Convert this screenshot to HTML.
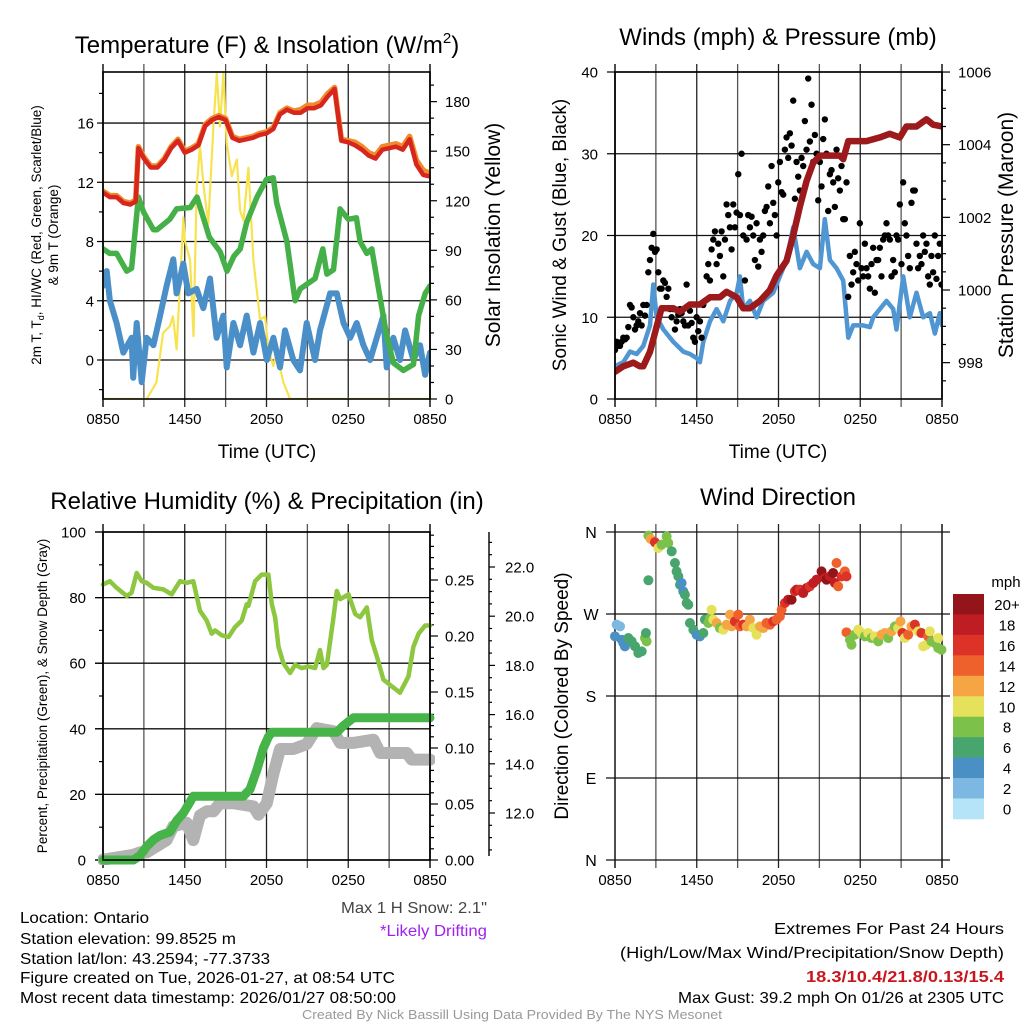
<!DOCTYPE html>
<html><head><meta charset="utf-8">
<style>
html,body{margin:0;padding:0;background:#fff;}
svg{display:block;font-family:"Liberation Sans",sans-serif;}
</style></head>
<body>
<svg id="fig" width="1024" height="1024" viewBox="0 0 1024 1024" xmlns="http://www.w3.org/2000/svg">
<defs>
<clipPath id="c1"><rect x="103" y="72" width="327" height="327"/></clipPath>
<clipPath id="c2"><rect x="615" y="72" width="327" height="327"/></clipPath>
<clipPath id="c3"><rect x="98" y="527" width="337" height="338"/></clipPath>
<clipPath id="c4"><rect x="605" y="527" width="345" height="338"/></clipPath>
</defs>
</svg>
<script>
// ===== Time axis =====
const timeTickHours = [0, 6, 12, 18, 24];
const timeTickLabels = ["0850", "1450", "2050", "0250", "0850"];

// ===== Panel 1: temperature (F) & insolation =====
const tempTimes = [0,0.5,1,1.5,2,2.4,2.6,3,3.5,4,4.5,5,5.5,6,6.5,7,7.5,8,8.5,9,9.5,10,10.5,11,11.5,12,12.5,13,13.5,14,14.5,15,15.5,16,16.5,17,17.5,18,18.5,19,19.5,20,20.5,21,21.5,22,22.5,23,23.5,24];
const tempValues = [11.3,11.0,11.0,10.6,10.5,10.7,14.3,13.6,13.0,13.0,13.5,14.3,14.8,14.0,14.2,14.5,15.8,16.2,16.4,16.2,15.0,14.8,14.9,15.0,15.2,15.3,15.6,16.6,16.9,16.7,16.7,17.0,17.0,17.2,17.8,18.3,14.8,14.7,14.5,14.2,13.8,13.6,14.2,14.3,14.4,14.2,14.9,13.2,12.5,12.4];
const temp9mValues = [11.4,11.1,11.1,10.7,10.6,10.8,14.4,13.7,13.1,13.1,13.6,14.4,14.9,14.1,14.3,14.6,15.9,16.3,16.5,16.3,15.1,14.9,15.0,15.1,15.3,15.4,15.7,16.7,17.0,16.8,16.9,17.2,17.2,17.4,18.0,18.4,14.9,14.8,14.7,14.4,14.0,13.8,14.4,14.5,14.6,14.4,15.1,13.5,12.8,12.6];
const dewTimes = [0,0.5,1,1.74,2.1,2.6,2.97,3.7,3.96,4.9,5.4,6.4,6.9,7.8,8.6,9.1,9.6,10.07,10.55,11.3,12.0,12.5,12.75,13.5,14.1,14.47,15.57,16.13,16.43,16.92,17.4,18.0,18.6,18.87,19.36,19.73,20.34,20.83,21.32,22.05,22.79,23.16,23.65,24];
const dewValues = [7.5,7.2,7.2,6.0,6.2,11.0,10.0,8.8,8.8,9.5,10.2,10.3,11.0,8.3,7.3,6.0,7.0,7.5,9.3,11.0,12.2,12.3,10.6,8.0,4.0,4.8,5.5,7.5,5.8,6.1,10.2,9.5,9.6,8.0,7.2,7.5,4.2,1.6,-0.2,-0.7,-0.3,3.0,4.5,5.0];
const chillTimes = [0,0.27,0.51,1,1.49,2.1,2.22,2.47,2.84,3.2,3.7,4.19,4.67,5.16,5.4,5.89,6.26,6.87,7.36,7.85,8.34,8.83,9.08,9.57,10.06,10.55,11.04,11.53,12.02,12.51,12.99,13.36,13.97,14.46,14.95,15.56,15.93,16.67,17.16,17.65,18.14,18.62,19.11,19.6,20.58,20.82,21.31,21.8,22.17,22.78,23.27,23.64,24];
const chillValues = [5.0,6.0,4.0,2.5,0.5,1.5,-1.2,2.5,-1.5,1.5,1.0,3.0,5.0,6.8,4.5,6.5,4.5,4.8,3.5,5.5,1.5,3.0,-0.5,2.5,1.0,3.0,0.5,2.5,0.0,1.5,-0.5,2.0,0.0,-0.7,2.5,0.0,2.0,4.5,4.5,2.5,1.5,2.5,1.0,0.0,3.0,-0.5,1.5,0.0,2.0,0.0,1.0,-1.0,0.5];
const solarTimes = [0,3.2,3.92,4.41,4.9,5.14,5.4,5.9,6.0,6.39,6.64,6.88,7.12,7.37,7.73,8.1,8.35,8.59,8.84,9.08,9.45,9.82,10.06,10.31,10.67,11.04,11.53,11.9,12.14,12.51,12.75,13.24,13.73,24];
const solarValues = [0,0,10,40,44,50,30,110,96,84,38,128,153,130,106,165,197,165,197,155,135,145,114,108,140,84,48,50,30,20,28,10,0,0];

// ===== Panel 2: winds & pressure =====
const windTimes = [0,0.61,1.1,1.59,2.08,2.57,2.81,3.06,3.55,4.28,5.01,5.5,5.99,6.23,6.48,6.97,7.46,7.95,8.44,8.93,9.17,9.41,9.9,10.39,10.88,11.61,12.1,12.59,13.08,13.57,14.06,14.55,15.04,15.4,15.77,16.26,16.75,17.12,17.48,18.22,18.71,18.95,19.44,19.93,20.42,20.66,21.15,21.64,22.13,22.62,23.11,23.48,23.84,24];
const windValues = [4,4.5,5.8,5.5,6.5,9,14,10,8.5,7,5.8,5.5,5,4.5,7,9.5,11,9.5,12,13,15,11,12,10,12,13,15,17,21,16,18,16.5,16,22,17,16,14.5,7.5,9,9,8.8,10,11,12,11,8.5,15,10,13,10,10.5,8,10.5,9];
const pressTimes = [0,0.61,1.34,1.83,2.08,2.57,3.06,3.42,4.28,4.77,5.5,6.23,6.97,7.7,8.19,8.93,9.41,9.9,10.64,11.37,11.86,12.59,13.08,13.57,14.06,14.55,15.04,15.53,16.5,16.75,17.12,17.73,18.46,19.44,20.17,20.9,21.39,22.13,22.86,23.35,24];
const pressValues = [997.75,997.9,998.0,997.9,997.9,998.3,999.0,999.5,999.5,999.4,999.6,999.6,999.8,999.8,999.95,999.8,999.5,999.5,999.7,1000.0,1000.4,1000.8,1001.5,1002.3,1003.0,1003.5,1003.7,1003.7,1003.7,1003.6,1004.1,1004.1,1004.1,1004.2,1004.3,1004.2,1004.5,1004.5,1004.7,1004.55,1004.5];
const gustValues = [6,7,6.5,6.5,7,7.5,7.3,7.5,8.8,11.5,11.2,10,8.5,9,9.5,10.5,9,11.5,10.2,11.5,15.5,17,18.5,20.2,18,18.3,15.5,13.5,13.5,14.5,14.2,12.5,13.5,11,10,11,8.5,9.5,10.3,11,10.5,9.5,9,14,9,10.8,9.3,7.5,7,10,8.3,9.5,7.5,11.5,12,15,16.5,14.5,18.3,19.5,20.5,16.5,19,17.5,20.5,15,19.5,23.8,22.5,21,18.3,23.8,21,22.8,27.5,22.5,30,20,14.5,19.5,22.5,21,22.3,20,17,21.5,16.2,19.5,18,20,23,23.5,26,21.5,28.5,24,22.5,20,26.5,29,25.3,25,30.5,32,29.5,32.5,31,36.5,24.5,29,27.2,25.5,29.5,28.5,34,30.5,39.2,31.5,36,29,32.3,30,24.3,29,26,31.8,34.2,30,23,27.5,28,26.5,23.5,30.5,27,25.5,28.5,22,22,26.5,12.5,17.5,14,15.5,18,16.5,14.5,21.5,16,15,19,16,15,13.5,16.5,18.5,13,17,17,18.5,15,19.5,20,21.5,20,19.5,15,17,15.5,20,19.5,23.8,16.5,26.5,21.5,20,17.5,16,24,25.5,25.5,19,16,17.5,16.5,20,18,19,15,14,17.5,15.5,20,14.7,17.5,19,14];
const gustSpanHours = 23.96;

// ===== Panel 3: RH, precip, snow depth =====
const rhTimes = [0,0.51,1,1.74,2.1,2.47,2.84,3.2,3.7,4.43,5.04,5.65,6.14,6.63,7.12,7.61,7.98,8.23,8.72,9.21,9.69,10.18,10.55,10.67,11.16,11.65,12.14,12.39,12.63,12.88,13.24,13.73,14.1,14.59,15.08,15.57,15.93,16.18,16.43,16.92,17.16,17.41,18.02,18.51,18.87,19.36,19.73,20.1,20.58,21.19,21.8,22.42,22.78,23.16,23.65,24];
const rhValues = [84,85,83,80.5,81.5,87.5,85,84.5,83,82.5,81,85,84.5,85,76,73,69,70,68.5,68,71,73,78,77.5,85,87,87,78,74,65,60,57,59.5,58.5,59,58.5,64,58.5,59.5,74,82,79.5,81,75,74,77,67,62,55,53,51,56,65,69,71.5,71.5];
const precipTimes = [0,2.23,2.72,3.2,3.7,4.19,4.92,5.4,5.9,6.39,6.63,7.12,10.3,10.79,11.28,11.77,12.14,12.39,17.16,17.65,18.38,24];
const precipValues = [0,0,0.004,0.012,0.018,0.022,0.025,0.035,0.042,0.052,0.057,0.057,0.057,0.063,0.08,0.1,0.11,0.114,0.114,0.12,0.127,0.127];
const snowTimes = [0,2.23,2.72,3.2,4.67,5.16,6.14,6.63,7.12,7.61,8.1,8.59,9.57,11.04,11.41,12.02,12.51,13.0,13.97,14.95,15.69,16.92,17.41,18.38,19.85,20.34,22.3,22.66,24];
const snowValues = [10.1,10.3,10.4,10.4,10.9,11.46,11.6,10.9,11.9,12.07,12.07,12.4,12.4,12.27,11.93,12.4,13.6,14.6,14.6,14.8,15.45,15.32,14.85,14.85,14.98,14.44,14.44,14.17,14.17];

// ===== Panel 4: wind direction =====
const dirTimes = [0,0.12,0.37,0.49,0.61,0.73,0.98,1.22,1.47,1.71,1.96,2.2,2.32,2.27,2.45,
2.45,2.62,2.93,3.18,3.42,3.79,3.91,4.16,4.4,4.52,4.65,4.77,4.89,5.01,5.13,5.26,5.38,
5.5,5.75,5.99,6.23,6.48,6.6,6.85,6.97,7.09,7.21,7.46,7.7,7.95,8.19,8.44,8.56,8.8,9.05,9.17,9.41,9.66,9.9,10.15,10.39,10.64,10.88,11.12,11.37,11.61,11.86,12.1,12.23,12.47,12.71,12.96,13.2,13.33,13.57,13.81,14.06,14.3,14.55,14.79,15.16,15.4,15.53,15.77,16.01,16.14,16.26,16.38,16.63,16.87,16.99,
16.99,17.24,17.36,17.6,17.85,18.09,18.34,18.58,18.83,19.07,19.32,19.56,19.8,20.05,20.29,20.54,20.78,20.95,21.1,21.27,21.52,21.76,22.01,22.25,22.49,22.62,22.86,22.98,23.11,23.23,23.47,23.72,23.72,23.96];
const dirValues = [245.5,258.3,256.4,241.8,238.2,234.5,243.6,240,234.5,227.2,229,243.6,240,249.1,307,
356,352.3,348.7,342.4,346.1,355.2,347.9,338.8,326,316.8,311.3,302.2,304,294.9,291.2,282.1,280.2,
260.1,252.8,247.3,245.5,249.1,263.8,260.1,265.6,274.7,263.8,260.1,254.6,252.8,258.3,269.3,256.4,261.9,269.3,256.4,258.3,256.4,263.8,254.6,247.3,256.4,254.6,260.1,258.3,261.9,263.8,267.4,274.7,282.1,285.7,285.7,294.9,296.7,296.7,293,298.5,300.4,304,307.7,316.8,309.5,307.7,311.3,315,304,326,300.4,311.3,316.8,311.3,
249.9,241.8,236.3,247.3,252.8,249.1,245.5,249.1,243.6,245.5,240,247.3,249.1,243.6,250.9,256.4,254.6,261.9,249.1,243.6,247.3,256.4,258.3,250.9,249.1,234.5,236.3,245.5,250.9,240,238.2,232.7,243.6,230.8];
const dirSpeeds = [4,3,3,4,4,4,6,6,6,6,6,8,8,7,6,
8,12,16,10,8,8,8,6,6,6,6,6,4,4,6,6,6,
6,6,4,4,6,6,8,8,10,10,12,8,10,12,12,12,16,14,14,16,12,12,10,10,12,12,14,14,16,14,14,14,16,18,20,16,18,16,18,18,16,18,18,20,18,20,18,20,18,14,14,16,14,16,
14,8,8,8,10,10,8,10,8,10,8,12,12,8,12,8,10,12,16,10,14,12,16,10,16,10,10,14,10,8,8,8,10,8];
const speedBinLabels = ["20+","18","16","14","12","10","8","6","4","2","0"];
const speedBinColors = ["#931519","#be1d23","#dd3227","#ef612c","#f6a544","#e6e15a","#7cc24a","#48a56e","#4a90c4","#7db8e2","#b5e3f7"];

// ===== Drawing =====
const NS = "http://www.w3.org/2000/svg";
const svg = document.getElementById("fig");
function mk(tag, attrs, parent) {
  const el = document.createElementNS(NS, tag);
  for (const k in attrs) el.setAttribute(k, attrs[k]);
  (parent || svg).appendChild(el);
  return el;
}
function txt(s, x, y, size, anchor, parent, extra) {
  const t = mk("text", Object.assign({x: x, y: y, "font-size": size, "text-anchor": anchor || "middle", fill: "#000"}, extra || {}), parent);
  t.textContent = s;
  return t;
}
function group(name) {
  const g = mk("g", {});
  
  
  return g;
}
function xScale(P, t) { return P.x0 + t * (P.x1 - P.x0) / 24; }
function polyline(P, times, vals, yf, color, width, clip, parent, name) {
  const pts = times.map((t, i) => xScale(P, t).toFixed(1) + "," + yf(vals[i]).toFixed(1)).join(" ");
  const pl = mk("polyline", {points: pts, fill: "none", stroke: color, "stroke-width": width, "stroke-linejoin": "round", "stroke-linecap": "round", "clip-path": "url(#" + clip + ")"}, parent);
  
  
  return pl;
}
function frame(P, gname, hLines, clip) {
  const g = group(gname);
  // vertical grid lines every 3 h
  for (let h = 0; h <= 24; h += 3) {
    const x = xScale(P, h);
    const ln = mk("line", {x1: x, x2: x, y1: P.y0 - 8, y2: P.y1 + 8, stroke: (h % 6 === 0) ? "#222" : "#555", "stroke-width": (h === 0 || h === 24) ? 1.6 : 1.3}, g);
    
    
  }
  hLines.forEach(y => {
    const ln = mk("line", {x1: P.x0 - (P.hExt || 0), x2: P.x1 + (P.hExtR || 0), y1: y, y2: y, stroke: "#111", "stroke-width": 1.3}, g);
    
    
  });
  timeTickHours.forEach((h, i) => {
    const t = txt(timeTickLabels[i], xScale(P, h), P.y1 + 25, 15, "middle", g);
    
    
  });
  return g;
}
function yTicks(g, x, vals, yf, len, labels, labelX, anchor, size) {
  vals.forEach((v, i) => {
    const y = yf(v);
    const tk = mk("line", {x1: x, x2: x + len, y1: y, y2: y, stroke: "#000", "stroke-width": 1.2}, g);
    
    
    if (labels && labels[i] !== null && labels[i] !== undefined) {
      const t = txt(labels[i], labelX, y + 5.5, size || 15, anchor, g);
      
      
    }
  });
}
function title(s, x, y, size, name) {
  const t = txt(s, x, y, size, "middle");
  
  
  return t;
}
function rotLabel(s, x, y, size, name, extra) {
  const t = txt(s, 0, 0, size, "middle", svg, Object.assign({transform: "translate(" + x + "," + y + ") rotate(-90)"}, extra || {}));
  
  
  return t;
}
function range(a, b, s) { const r = []; for (let v = a; v <= b + 1e-9; v += s) r.push(+v.toFixed(4)); return r; }

// ---------- Panel 1 ----------
const P1 = {x0: 103, x1: 430, y0: 72, y1: 399};
const y1L = v => 360 - v * 14.81;
const y1R = v => 399 - v * 1.652;
const g1 = frame(P1, "temperature-panel", [0, 4, 8, 12, 16].map(y1L), "c1");
yTicks(g1, P1.x0, [0, 4, 8, 12, 16], y1L, -6, ["0", "4", "8", "12", "16"], 94, "end");
yTicks(g1, P1.x0, [-2, 2, 6, 10, 14, 18], y1L, -4, null);
yTicks(g1, P1.x1, range(0, 180, 30), y1R, 7, ["0", "30", "60", "90", "120", "150", "180"], 445, "start");
yTicks(g1, P1.x1, range(10, 190, 10).filter(v => v % 30 !== 0), y1R, 4, null);
polyline(P1, solarTimes, solarValues, y1R, "#f7e34f", 2.2, "c1", g1, "solar-insolation-line");
polyline(P1, chillTimes, chillValues, y1L, "#4a8fc8", 6, "c1", g1, "wind-chill-line");
polyline(P1, dewTimes, dewValues, y1L, "#44b047", 5.5, "c1", g1, "dewpoint-line");
polyline(P1, tempTimes, temp9mValues, y1L, "#f08a2c", 5.5, "c1", g1, "temp-9m-line");
polyline(P1, tempTimes, tempValues, y1L, "#d7261e", 4.5, "c1", g1, "temp-2m-line");
const box1 = mk("rect", {x: P1.x0, y: P1.y0, width: 327, height: 327, fill: "none", stroke: "#000", "stroke-width": 1.6}, g1);


const t1 = title("", 267, 53, 24, "temperature-title");
t1.innerHTML = 'Temperature (F) &amp; Insolation (W/m<tspan font-size="15" dy="-10">2</tspan><tspan dy="10">)</tspan>';
const yl1 = rotLabel("", 41, 235, 13.5, "temperature-y-axis-title");
yl1.innerHTML = '2m T, T<tspan font-size="9" dy="3">d</tspan><tspan dy="-3">, HI/WC (Red, Green, Scarlet/Blue)</tspan>';
rotLabel("& 9m T (Orange)", 58, 235, 13.5, "temperature-y-axis-title-line2");
rotLabel("Solar Insolation (Yellow)", 500, 235, 21, "insolation-y-axis-title");
title("Time (UTC)", 267, 458, 19, "temperature-x-axis-title");

// ---------- Panel 2 ----------
const P2 = {x0: 615, x1: 942, y0: 72, y1: 399};
const y2L = v => 399 - v * 8.175;
const y2R = v => 399 - (v - 997) * 36.33;
const g2 = frame(P2, "winds-panel", [10, 20, 30, 40].map(y2L), "c2");
yTicks(g2, P2.x0, [0, 10, 20, 30, 40], y2L, -8, ["0", "10", "20", "30", "40"], 598, "end");
yTicks(g2, P2.x1, [998, 1000, 1002, 1004, 1006], y2R, 8, ["998", "1000", "1002", "1004", "1006"], 958, "start");
yTicks(g2, P2.x1, range(997.5, 1005.5, 0.5).filter(v => v % 2 !== 0), y2R, 4, null);
polyline(P2, windTimes, windValues, y2L, "#4f96d2", 4.5, "c2", g2, "sonic-wind-line");
const gustG = mk("g", {"clip-path": "url(#c2)"}, g2);


gustValues.forEach((v, i) => {
  const t = i * gustSpanHours / (gustValues.length - 1);
  const c = mk("circle", {cx: xScale(P2, t), cy: y2L(v), r: 3.2, fill: "#000"}, gustG);
  
  
});
polyline(P2, pressTimes, pressValues, y2R, "#9c1a1c", 6.5, "c2", g2, "station-pressure-line");
const box2 = mk("rect", {x: P2.x0, y: P2.y0, width: 327, height: 327, fill: "none", stroke: "#000", "stroke-width": 1.6}, g2);


title("Winds (mph) & Pressure (mb)", 778, 45, 24, "winds-title");
rotLabel("Sonic Wind & Gust (Blue, Black)", 566, 235, 19, "wind-y-axis-title");
rotLabel("Station Pressure (Maroon)", 1013, 235, 21, "pressure-y-axis-title");
title("Time (UTC)", 778, 458, 19, "winds-x-axis-title");

// ---------- Panel 3 ----------
const P3 = {x0: 103, x1: 430, y0: 532, y1: 860, hExt: 8};
const y3L = v => 860 - v * 3.28;
const y3P = v => 860 - v * 1120;
const y3S = v => 813 - (v - 12) * 24.6;
const g3 = frame(P3, "humidity-panel", [0, 20, 40, 60, 80, 100].map(y3L), "c3");
yTicks(g3, P3.x0, [0, 20, 40, 60, 80, 100], y3L, -8, ["0", "20", "40", "60", "80", "100"], 86, "end");
yTicks(g3, P3.x0, [10, 30, 50, 70, 90], y3L, -4, null);
yTicks(g3, P3.x1, range(0, 0.25, 0.05), y3P, 8, ["0.00", "0.05", "0.10", "0.15", "0.20", "0.25"], 445, "start");
yTicks(g3, P3.x1, range(0.01, 0.29, 0.01).filter(v => Math.round(v * 100) % 5 !== 0), y3P, 4, null);
const snowAx = mk("line", {x1: 489, x2: 489, y1: 532, y2: 856, stroke: "#000", "stroke-width": 1.4}, g3);


yTicks(g3, 489, [12, 14, 16, 18, 20, 22], y3S, 6, ["12.0", "14.0", "16.0", "18.0", "20.0", "22.0"], 505, "start");
yTicks(g3, 489, range(10.5, 23, 0.5).filter(v => v % 2 !== 0), y3S, 3, null);
polyline(P3, snowTimes, snowValues, y3S, "#b3b3b3", 12, "c3", g3, "snow-depth-line");
polyline(P3, precipTimes, precipValues, y3P, "#46b449", 9, "c3", g3, "precipitation-line");
polyline(P3, rhTimes, rhValues, y3L, "#8dc63f", 4.5, "c3", g3, "relative-humidity-line");
const box3 = mk("rect", {x: P3.x0, y: P3.y0, width: 327, height: 328, fill: "none", stroke: "#000", "stroke-width": 1.6}, g3);


title("Relative Humidity (%) & Precipitation (in)", 267, 509, 24, "humidity-title");
rotLabel("Percent, Precipitation (Green), & Snow Depth (Gray)", 47, 696, 13.5, "humidity-y-axis-title");

// ---------- Panel 4 ----------
const P4 = {x0: 615, x1: 942, y0: 532, y1: 860, hExt: 9, hExtR: 8};
const y4 = v => 860 - v * 0.9111;
const g4 = frame(P4, "wind-direction-panel", [0, 90, 180, 270, 360].map(y4), "c4");
["N", "E", "S", "W", "N"].forEach((s, i) => {
  const t = txt(s, 591, y4(i * 90) + 6, 16, "middle", g4);
  
  
});
const dirG = mk("g", {"clip-path": "url(#c4)"}, g4);


dirValues.forEach((d, i) => {
  const bin = Math.min(10, Math.floor(dirSpeeds[i] / 2));
  const c = mk("circle", {cx: xScale(P4, dirTimes[i]), cy: y4(d), r: 5, fill: speedBinColors[10 - bin]}, dirG);
  
  
});
title("Wind Direction", 778, 505, 24, "wind-direction-title");
rotLabel("Direction (Colored By Speed)", 568, 696, 19, "direction-y-axis-title");
const cb = group("speed-colorbar");
speedBinColors.forEach((c, i) => {
  const r = mk("rect", {x: 953, y: 594 + i * 20.45, width: 31, height: 20.8, fill: c}, cb);
  
  
  const t = txt(speedBinLabels[i], 1007, 594 + i * 20.45 + 16, 15, "middle", cb);
  
  
});
const mph = txt("mph", 1006, 587, 15, "middle", cb);



// ---------- Footer text ----------
const foot = group("station-info");
const infoLines = [["Location: Ontario", 917, 129], ["Station elevation: 99.8525 m", 938, 216], ["Station lat/lon: 43.2594; -77.3733", 958, 250], ["Figure created on Tue, 2026-01-27, at 08:54 UTC", 977, 375], ["Most recent data timestamp: 2026/01/27 08:50:00", 997, 376]];
infoLines.forEach(l => {
  const t = txt(l[0], 20, l[1] + 6, 16, "start", foot, {textLength: l[2], lengthAdjust: "spacingAndGlyphs"});
  
  
});
const ms = txt('Max 1 H Snow: 2.1"', 487, 913, 16, "end", svg, {fill: "#444", textLength: 146, lengthAdjust: "spacingAndGlyphs"});


const ld = txt("*Likely Drifting", 487, 936, 16, "end", svg, {fill: "#a020f0", textLength: 107, lengthAdjust: "spacingAndGlyphs"});


const ext = group("extremes-info");
const extLines = [["Extremes For Past 24 Hours", 928, 230, "#000", "normal"], ["(High/Low/Max Wind/Precipitation/Snow Depth)", 952, 384, "#000", "normal"], ["18.3/10.4/21.8/0.13/15.4", 976, 198, "#c8161e", "bold"], ["Max Gust: 39.2 mph On 01/26 at 2305 UTC", 997, 326, "#000", "normal"]];
extLines.forEach(l => {
  const t = txt(l[0], 1004, l[1] + 6, 16, "end", ext, {textLength: l[2], lengthAdjust: "spacingAndGlyphs", fill: l[3], "font-weight": l[4]});
  
  
});
const cr = txt("Created By Nick Bassill Using Data Provided By The NYS Mesonet", 512, 1019, 13, "middle", svg, {fill: "#999", textLength: 420, lengthAdjust: "spacingAndGlyphs"});


</script>
</body></html>
